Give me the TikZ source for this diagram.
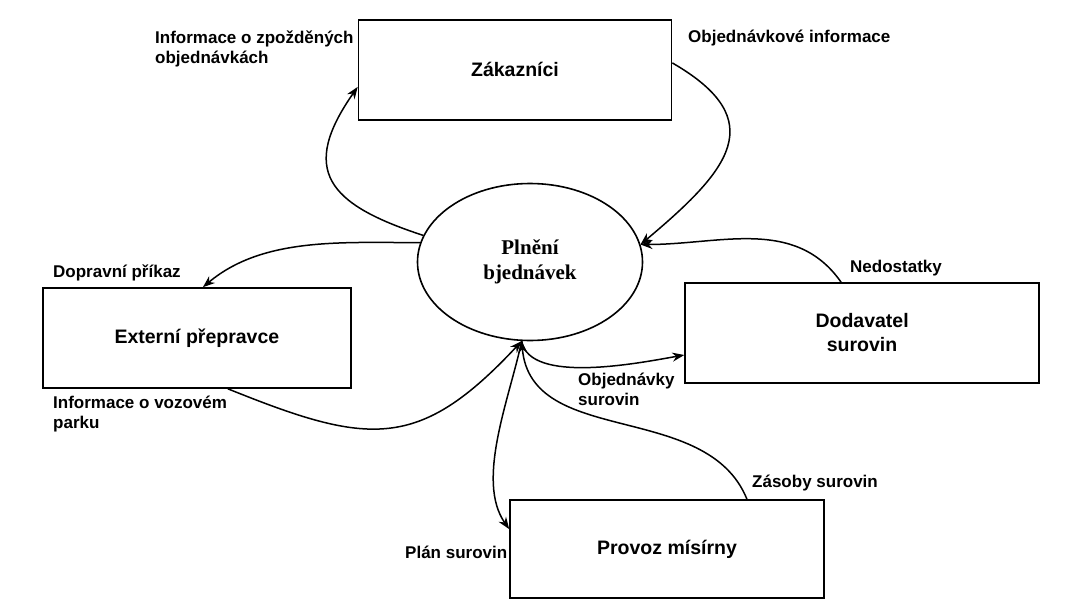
\documentclass[tikz,border=0pt]{standalone}
\usepackage{fontspec}
\usepackage{tikz}
\newfontfamily\arialfont{Liberation Sans}
\newfontfamily\timesfont{Liberation Serif}
\usetikzlibrary{shapes.geometric,arrows.meta,positioning}

\begin{document}
\begin{tikzpicture}[
  x=1pt,y=1pt,
  ent/.style={rectangle,draw,line width=1.6pt,minimum height=100pt,
    font=\arialfont\bfseries\fontsize{19.5}{24}\selectfont,align=center},
  pr/.style={ellipse,draw,line width=1.6pt,minimum width=225pt,
    minimum height=157pt,inner sep=0pt,
    font=\timesfont\bfseries\fontsize{21}{25}\selectfont,align=center},
  tok/.style={font=\arialfont\bfseries\fontsize{17}{20}\selectfont,
    align=left,inner sep=0pt},
  ar/.style={-{Stealth[length=12pt,width=9pt]},line width=1.5pt}
]
\useasboundingbox (-530,262) rectangle (553,-349);

\node[pr] (ell) {Plnění\\bjednávek};
\node[ent,minimum width=313pt,above=62pt of ell,xshift=-15pt] (zak) {Zákazníci};
\node[ent,minimum width=308pt,left=65pt of ell,yshift=-76pt]  (ext) {Externí přepravce};
\node[ent,minimum width=354pt,right=41pt of ell,yshift=-71pt] (dod) {Dodavatel\\surovin};
\node[ent,minimum width=314pt,minimum height=98pt,below=158pt of ell,xshift=137pt] (prov) {Provoz mísírny};

\node[tok,anchor=north west] (infZp)  at (-375,231) {Informace o zpožděných\\objednávkách};
\node[tok,anchor=west]       (objInf) at (158,224)  {Objednávkové informace};
\node[tok,anchor=west]       (dopr)   at (-477,-11) {Dopravní příkaz};
\node[tok,anchor=north west] (infVoz) at (-477,-134){Informace o vozovém\\parku};
\node[tok,anchor=north west] (objSur) at (48,-111)  {Objednávky\\surovin};
\node[tok,anchor=west]       (nedo)   at (320,-6)   {Nedostatky};
\node[tok,anchor=west]       (zas)    at (222,-221) {Zásoby surovin};
\node[tok,anchor=west]       (plan)   at (-125,-290){Plán surovin};

\draw[ar] (ell.166) to[out=162,in=235,looseness=1.6] ([yshift=-17pt]zak.west);
\draw[ar] (ell.170) to[out=180,in=40,looseness=0.9] ([xshift=6pt]ext.north);
\draw[ar] ([yshift=7pt]zak.east) to[out=-30,in=40,looseness=1.6] (ell.9);
\draw[ar] ([xshift=-21pt]dod.north) to[out=125,in=0] (ell.9);
\draw[ar] (ell.264) to[out=-80,in=190,looseness=0.7] ([yshift=-22pt]dod.west);
\draw[ar] ([xshift=31pt]ext.south) to[out=-22,in=227,looseness=1.3] (ell.264);
\draw[ar] (ell.264) to[out=258,in=125,looseness=0.8] ([yshift=20pt]prov.west);
\draw[ar] ([xshift=80pt]prov.north) to[out=112,in=-85] (ell.264);
\end{tikzpicture}
\end{document}
